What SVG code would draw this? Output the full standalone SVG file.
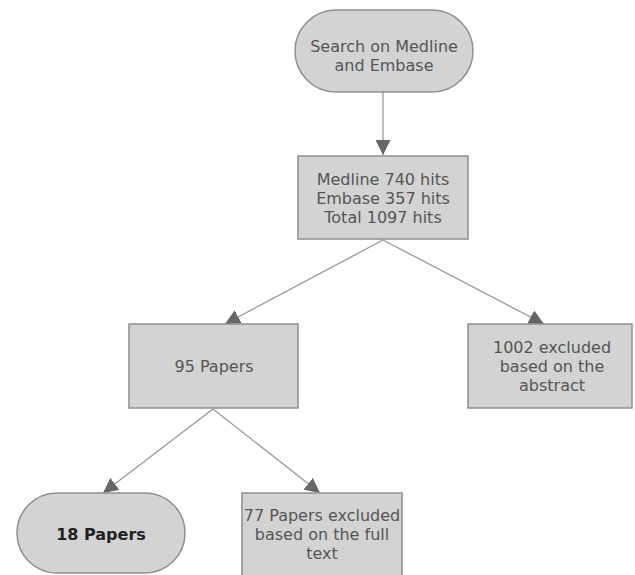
<svg xmlns="http://www.w3.org/2000/svg" width="635" height="575" viewBox="0 0 635 575">
<defs>
<marker id="ah" viewBox="0 0 10 10" refX="10" refY="5" markerWidth="15" markerHeight="15" markerUnits="userSpaceOnUse" orient="auto">
<path d="M0,0 L10,5 L0,10 z" fill="#666"/>
</marker>
<style>
.n{fill:#d3d3d3;stroke:#8f8f8f;stroke-width:1.5}
.t{font-family:"DejaVu Sans",Verdana,sans-serif;font-size:16px;fill:#555;text-anchor:middle}
.c{stroke:#999;stroke-width:1.3;fill:none}
</style>
</defs>
<rect width="635" height="575" fill="#fff"/>
<g id="connectors">
<line class="c" x1="383" y1="92" x2="383" y2="155" marker-end="url(#ah)"/>
<line class="c" x1="383" y1="240" x2="225" y2="324" marker-end="url(#ah)"/>
<line class="c" x1="383" y1="240" x2="544" y2="324" marker-end="url(#ah)"/>
<line class="c" x1="213" y1="409" x2="103" y2="493" marker-end="url(#ah)"/>
<line class="c" x1="213" y1="409" x2="320" y2="493" marker-end="url(#ah)"/>
</g>
<g id="search">
<rect class="n" x="295" y="10" width="178" height="82" rx="41" ry="41"/>
<text class="t" x="384" y="52">Search on Medline</text>
<text class="t" x="384" y="71">and Embase</text>
</g>
<g id="hits">
<rect class="n" x="298" y="156" width="170" height="83"/>
<text class="t" x="383" y="185">Medline 740 hits</text>
<text class="t" x="383" y="204">Embase 357 hits</text>
<text class="t" x="383" y="223">Total 1097 hits</text>
</g>
<g id="papers95">
<rect class="n" x="129" y="324" width="169" height="84"/>
<text class="t" x="214" y="372">95 Papers</text>
</g>
<g id="excluded1002">
<rect class="n" x="468" y="324" width="164" height="84"/>
<text class="t" x="552" y="353">1002 excluded</text>
<text class="t" x="552" y="372">based on the</text>
<text class="t" x="552" y="391">abstract</text>
</g>
<g id="papers18">
<rect class="n" x="17" y="493" width="168" height="80" rx="40" ry="40"/>
<text class="t" x="101" y="540" style="font-weight:bold;fill:#222">18 Papers</text>
</g>
<g id="excluded77">
<rect class="n" x="242" y="493" width="160" height="84"/>
<text class="t" x="322" y="521">77 Papers excluded</text>
<text class="t" x="322" y="540">based on the full</text>
<text class="t" x="322" y="559">text</text>
</g>
</svg>
